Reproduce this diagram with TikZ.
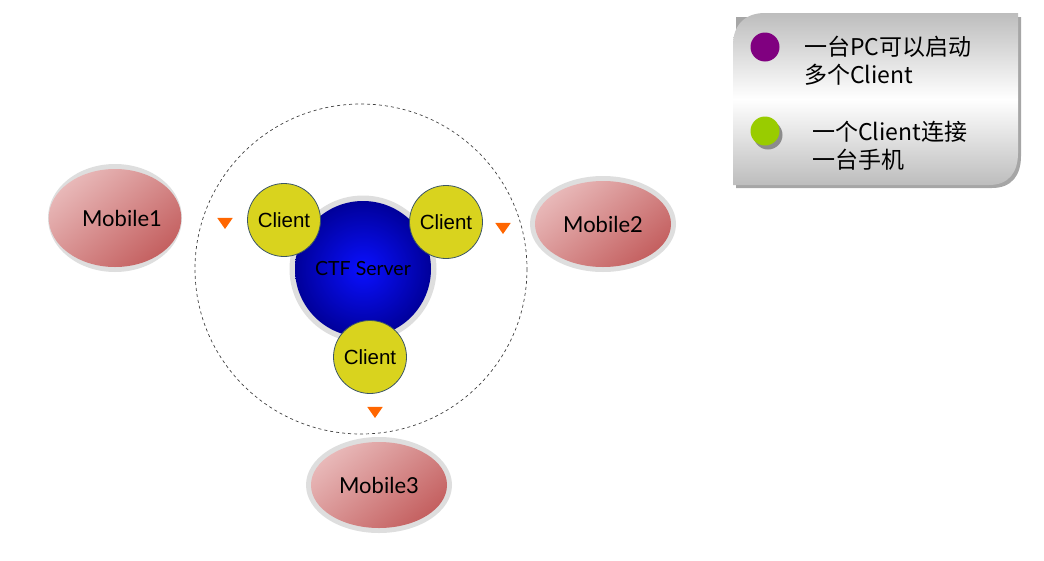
\documentclass[tikz,border=0pt]{standalone}
\usepackage{fontspec}
\setmainfont{Liberation Sans}
\newfontfamily\cjkfont{Noto Sans CJK SC}
\newfontfamily\humfont{Lato}
\usetikzlibrary{shapes.geometric,shadings}
\definecolor{pinkL}{HTML}{E8B8B8}
\definecolor{pinkD}{HTML}{C46060}
\definecolor{ringgray}{HTML}{DEDEDE}
\definecolor{blueC}{HTML}{0A10FF}
\definecolor{blueE}{HTML}{00009A}
\definecolor{clientfill}{HTML}{D9D31E}
\definecolor{clientdraw}{HTML}{3C5666}
\definecolor{tri}{HTML}{FF6600}
\definecolor{legpurple}{HTML}{800080}
\definecolor{leggreen}{HTML}{99CC00}
\definecolor{leggray}{HTML}{BDBDBD}
\tikzset{
  mobring/.style={ellipse, fill=ringgray, minimum width=146pt, minimum height=96pt, inner sep=0pt},
  mobbody/.style={ellipse, top color=pinkL, bottom color=pinkD, shading angle=40, minimum width=136pt, minimum height=86pt, inner sep=0pt, font=\humfont\fontsize{22}{24}\selectfont},
  clientnode/.style={circle, fill=clientfill, draw=clientdraw, line width=0.8pt, minimum size=73pt, inner sep=0pt, font=\fontsize{20.5}{22}\selectfont},
  tricon/.style={isosceles triangle, isosceles triangle apex angle=70, shape border rotate=-90, fill=tri, minimum height=11pt, minimum width=14pt, inner sep=0pt},
  legtext/.style={anchor=west, font=\cjkfont\fontsize{23}{28}\selectfont, align=left, inner sep=0pt}
}
\begin{document}
\begin{tikzpicture}[x=1pt,y=-1pt]
\useasboundingbox (0,0) rectangle (1044,560);
% dashed circle
\draw[dashed, line width=0.7pt, black!75] (361,269) ellipse [x radius=166, y radius=165];
% server
\node[circle, fill=ringgray, minimum size=147pt, inner sep=0pt] (srvring) at (363,269) {};
\node[circle, inner color=blueC, outer color=blueE, minimum size=136pt, inner sep=0pt, font=\humfont\fontsize{19.5}{21}\selectfont] (srv) at (363,269) {CTF Server};
% clients
\node[clientnode] (c1) at (284,220) {Client};
\node[clientnode] (c2) at (446,222) {Client};
\node[clientnode] (c3) at (370,357) {Client};
% triangles
\node[tricon] (t1) at (225,222) {};
\node[tricon] (t2) at (503,227) {};
\node[tricon] (t3) at (375,411) {};
% mobiles
\node[mobring, minimum width=134pt, minimum height=108pt] (m1r) at (115,218) {};
\node[mobbody, minimum width=124pt, minimum height=98pt] (m1) at (115,218) {\hspace*{14pt}Mobile1};
\node[mobring] (m2r) at (603,224) {};
\node[mobbody] (m2) at (603,224) {Mobile2};
\node[mobring] (m3r) at (379,485) {};
\node[mobbody] (m3) at (379,485) {Mobile3};
% legend
\fill[black!35] (736,17) -- (1021,17) -- (1021,156) .. controls (1021,175) and (1012,188) .. (992,188) -- (736,188) -- cycle;
\shade[top color=leggray, bottom color=leggray, middle color=white]
  (733,45) .. controls (733,25) and (745,13) .. (765,13) -- (1018,13) -- (1018,153) .. controls (1018,172) and (1009,185) .. (989,185) -- (733,185) -- cycle;
\node[circle, fill=legpurple, minimum size=29pt, inner sep=0pt] (dot1) at (765,47) {};
\fill[black!45] (768,135) circle (14.5pt);
\node[circle, fill=leggreen, minimum size=29pt, inner sep=0pt] (dot2) at (765,131) {};
\node[legtext] (l1) at (804,61) {一台PC可以启动\\多个Client};
\node[legtext] (l2) at (812,146) {一个Client连接\\一台手机};
\end{tikzpicture}
\end{document}
